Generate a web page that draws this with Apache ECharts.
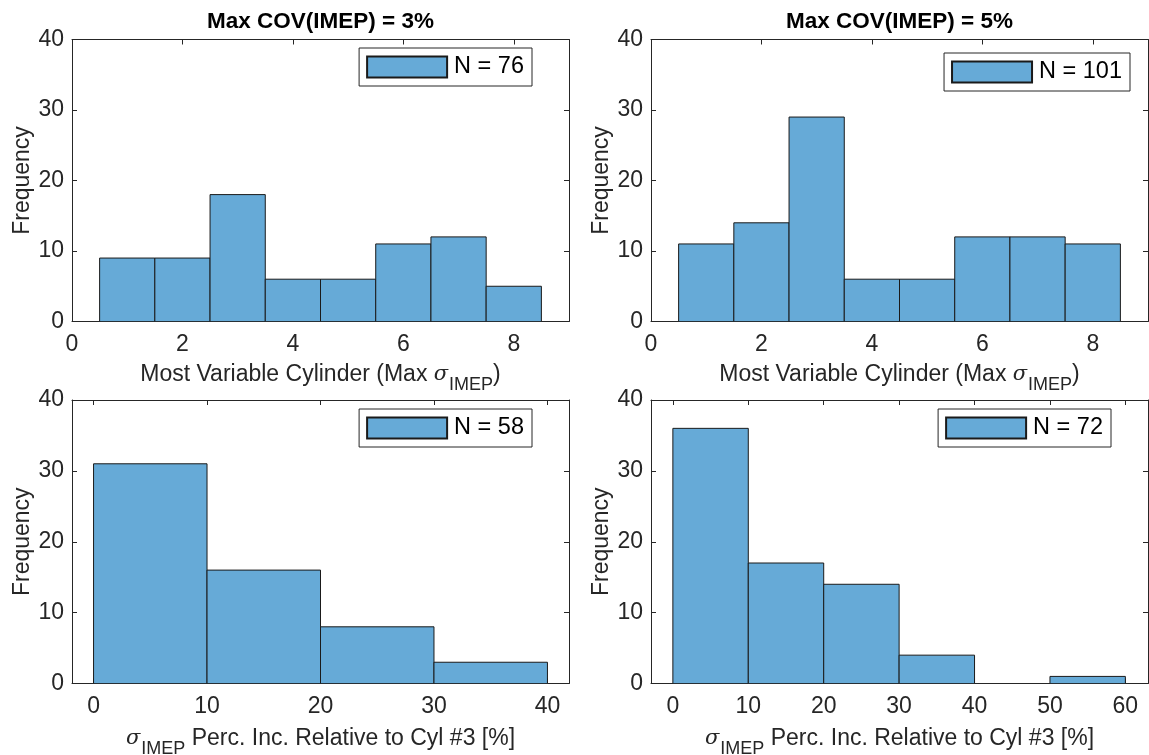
<!DOCTYPE html>
<html><head><meta charset="utf-8">
<script src="https://cdn.jsdelivr.net/npm/echarts@6/dist/echarts.min.js"></script>
<style>html,body{margin:0;padding:0;background:#fff}#c{width:1149px;height:755px}</style>
</head><body><div id="c"></div>
<script>
// ---- data ----
const cylEdges = [0.5, 1.5, 2.5, 3.5, 4.5, 5.5, 6.5, 7.5, 8.5];
const cov3CylCounts = [9, 9, 18, 6, 6, 11, 12, 5];
const cov5CylCounts = [11, 14, 29, 6, 6, 12, 12, 11];
const pctEdges3 = [0, 10, 20, 30, 40];
const cov3PctCounts = [31, 16, 8, 3];
const pctEdges5 = [0, 10, 20, 30, 40, 50, 60];
const cov5PctCounts = [36, 17, 14, 4, 0, 1];
const titles = ['Max COV(IMEP) = 3%', 'Max COV(IMEP) = 5%'];
const legendNames = ['N = 76', 'N = 101', 'N = 58', 'N = 72'];
const yTicks = [0, 10, 20, 30, 40];
const cylTicks = [0, 2, 4, 6, 8];
const pctTicks3 = [0, 10, 20, 30, 40];
const pctTicks5 = [0, 10, 20, 30, 40, 50, 60];
const cylAxisName = '{t|Most Variable Cylinder (Max }{s|σ}{sub|IMEP}{t|)}';
const pctAxisName = '{s|σ}{sub|IMEP}{t| Perc. Inc. Relative to Cyl #3 [%]}';
const yName = 'Frequency';

// ---- style ----
const FF = 'Liberation Sans, Arial, sans-serif';
const AX = '#262626';
const TX = '#262626';
const FILL = '#66AAD7';
const EDGE = '#1a1a1a';
const FS = 23;

function bins(edges, counts) {
  return counts.map((c, i) => [edges[i], edges[i + 1], c]);
}

const grids = [
  { left: 72, top: 39.5, width: 497, height: 282, outerBoundsMode: 'none', containLabel: false },
  { left: 651, top: 39.5, width: 497, height: 282, outerBoundsMode: 'none', containLabel: false },
  { left: 72, top: 400, width: 497, height: 283.5, outerBoundsMode: 'none', containLabel: false },
  { left: 651, top: 400, width: 497, height: 283.5, outerBoundsMode: 'none', containLabel: false }
];

const panels = [
  { min: 0, max: 9, ticks: cylTicks, name: cylAxisName, gap: 33, data: bins(cylEdges, cov3CylCounts), legend: legendNames[0], lg: { right: 617, top: 48 } },
  { min: 0, max: 9, ticks: cylTicks, name: cylAxisName, gap: 33, data: bins(cylEdges, cov5CylCounts), legend: legendNames[1], lg: { right: 19, top: 53 } },
  { min: -1.9, max: 41.9, ticks: pctTicks3, name: pctAxisName, gap: 35, data: bins(pctEdges3, cov3PctCounts), legend: legendNames[2], lg: { right: 617, top: 409 } },
  { min: -2.9, max: 63, ticks: pctTicks5, name: pctAxisName, gap: 35, data: bins(pctEdges5, cov5PctCounts), legend: legendNames[3], lg: { right: 38, top: 409 } }
];

const richName = {
  s: { fontStyle: 'italic', fontSize: 21, fontFamily: 'DejaVu Serif, serif', color: TX, padding: [0, 1, 0, 0] },
  sub: { fontSize: 18, fontFamily: FF, color: TX, padding: [22, 0, 0, 0] },
  t: { fontSize: FS, fontFamily: FF, color: TX }
};

const xAxes = [], yAxes = [], series = [], legends = [];
panels.forEach((p, gi) => {
  xAxes.push({
    type: 'value', gridIndex: gi, min: p.min, max: p.max, position: 'bottom',
    axisLine: { show: true, onZero: false, lineStyle: { color: AX, width: 1 } },
    axisTick: { show: true, inside: true, length: 5, customValues: p.ticks, lineStyle: { color: AX } },
    axisLabel: { customValues: p.ticks, fontSize: FS, color: TX, margin: 12, fontFamily: FF },
    splitLine: { show: false },
    name: p.name, nameLocation: 'middle', nameGap: p.gap,
    nameTextStyle: { fontSize: FS, color: TX, fontFamily: FF, rich: richName }
  });
  xAxes.push({
    type: 'value', gridIndex: gi, min: p.min, max: p.max, position: 'top',
    axisLine: { show: true, onZero: false, lineStyle: { color: AX, width: 1 } },
    axisTick: { show: true, inside: true, length: 5, customValues: p.ticks, lineStyle: { color: AX } },
    axisLabel: { show: false }, splitLine: { show: false }
  });
  yAxes.push({
    type: 'value', gridIndex: gi, min: 0, max: 40, interval: 10, position: 'left',
    axisLine: { show: true, onZero: false, lineStyle: { color: AX, width: 1 } },
    axisTick: { show: true, inside: true, length: 5, customValues: yTicks, lineStyle: { color: AX } },
    axisLabel: { customValues: yTicks, fontSize: FS, color: TX, margin: 8, fontFamily: FF },
    splitLine: { show: false },
    name: yName, nameLocation: 'middle', nameGap: 36,
    nameTextStyle: { fontSize: FS, color: TX, fontFamily: FF }
  });
  yAxes.push({
    type: 'value', gridIndex: gi, min: 0, max: 40, interval: 10, position: 'right',
    axisLine: { show: true, onZero: false, lineStyle: { color: AX, width: 1 } },
    axisTick: { show: true, inside: true, length: 5, customValues: yTicks, lineStyle: { color: AX } },
    axisLabel: { show: false }, splitLine: { show: false }
  });
  series.push({
    type: 'custom', name: p.legend, xAxisIndex: gi * 2, yAxisIndex: gi * 2,
    itemStyle: { color: FILL, borderColor: EDGE, borderWidth: 1 },
    encode: { x: [0, 1], y: 2 },
    clip: true,
    renderItem: function (params, api) {
      const c = api.value(2);
      if (!c) return null;
      const p0 = api.coord([api.value(0), c]);
      const p1 = api.coord([api.value(1), 0]);
      return {
        type: 'rect',
        shape: { x: p0[0], y: p0[1], width: p1[0] - p0[0], height: p1[1] - p0[1] },
        style: { fill: FILL, stroke: EDGE, lineWidth: 1 }
      };
    },
    data: p.data
  });
  legends.push({
    data: [{ name: p.legend, icon: 'rect' }],
    right: p.lg.right, top: p.lg.top, orient: 'horizontal',
    itemWidth: 80, itemHeight: 21,
    padding: [7, 8, 7, 7],
    borderColor: AX, borderWidth: 1, backgroundColor: '#fff',
    selectedMode: false,
    textStyle: { fontSize: 23.5, color: '#000', fontFamily: FF, padding: [0, 0, 0, 2] },
    itemStyle: { color: FILL, borderColor: EDGE, borderWidth: 2 }
  });
});

const chart = echarts.init(document.getElementById('c'), null, { renderer: 'canvas' });
chart.setOption({
  animation: false,
  backgroundColor: '#fff',
  grid: grids,
  xAxis: xAxes,
  yAxis: yAxes,
  legend: legends,
  series: series,
  graphic: [
    { type: 'text', x: 320.5, y: 22, style: { text: titles[0], font: 'bold 22.5px ' + FF, fill: '#000', textAlign: 'center', textVerticalAlign: 'middle' } },
    { type: 'text', x: 899.5, y: 22, style: { text: titles[1], font: 'bold 22.5px ' + FF, fill: '#000', textAlign: 'center', textVerticalAlign: 'middle' } }
  ]
});
</script>
</body></html>
